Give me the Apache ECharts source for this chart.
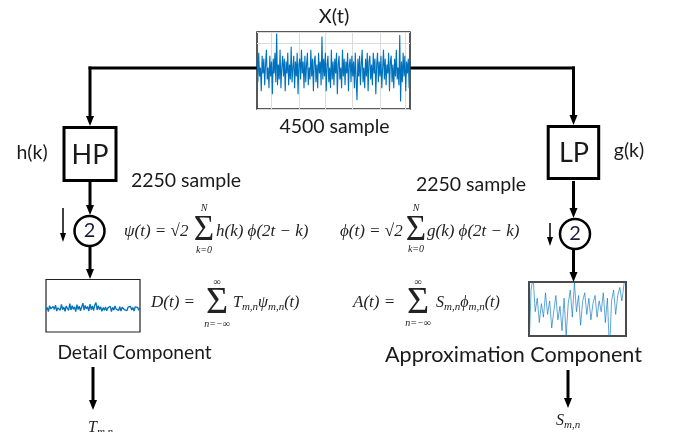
<!DOCTYPE html>
<html><head><meta charset="utf-8">
<script src="https://cdn.jsdelivr.net/npm/echarts@6/dist/echarts.min.js"></script>
<style>html,body{margin:0;padding:0;background:#fff}#c{width:673px;height:432px}</style>
</head><body><div id="c"></div>
<script>
// ---- data ----
const signalX = [
 0.3,-0.4,0.6,-0.2,0.1,-0.7,0.5,-0.1,0.4,-0.5,
 0.2,0.7,-0.3,0.1,-0.6,0.5,-0.2,0.3,-0.8,0.4,
 -0.1,0.6,-0.4,1.25,-0.5,0.2,-0.3,0.7,-0.6,0.1,
 0.5,-0.2,0.4,-0.7,0.3,-0.1,0.6,-0.5,0.2,-0.3,
 0.8,-0.4,0.1,0.5,-0.6,0.3,-0.2,0.6,-0.8,0.2,
 0.4,-0.3,0.7,-0.1,0.3,-0.6,0.5,-0.4,0.2,0.6,
 -0.5,0.1,-0.3,0.7,-0.2,0.4,-0.7,0.3,0.5,-0.4,
 0.2,-0.6,0.6,-0.1,0.3,-0.5,1.15,-0.3,0.4,-0.2,
 0.6,-0.7,0.2,0.5,-0.4,0.1,-0.6,0.7,-0.3,0.3,
 -0.5,0.4,-0.1,0.6,-0.8,0.2,0.5,-0.3,0.1,-0.6,
 0.7,-0.2,0.4,-0.5,0.3,-0.1,0.6,-0.7,0.2,0.4,
 -0.4,0.5,-0.2,0.3,-0.6,0.6,-0.3,-1.0,0.4,-0.2,
 0.5,-0.5,0.2,0.7,-0.4,0.1,-0.6,0.4,-0.2,0.6,
 -0.7,0.3,0.5,-0.3,0.2,-0.5,0.6,-0.1,0.4,-0.8,
 0.2,0.6,-0.4,0.3,-0.2,0.5,-0.6,0.1,0.7,-0.3,
 0.4,-0.5,0.2,-0.1,0.6,-0.7,0.3,0.5,-0.4,0.2,
 -0.6,0.4,-0.2,0.7,-0.3,0.1,-0.5,1.2,-1.05,0.3,
 -0.4,0.6,-0.2,0.5,-0.7,0.3,-0.1,0.4,-0.6,0.2
];
const detailD = [
 -0.06,0.04,-0.12,0.10,-0.02,-0.09,0.07,-0.04,0.12,-0.10,
 0.02,0.08,-0.07,0.15,-0.05,0.05,-0.11,0.09,0.03,-0.08,
 0.18,-0.06,0.10,-0.03,0.06,-0.12,0.14,-0.04,0.08,-0.09,
 0.05,0.20,-0.07,0.11,-0.02,0.07,-0.10,0.16,-0.05,0.09,
 -0.08,0.13,0.22,-0.06,0.10,-0.04,0.06,-0.11,0.03,-0.07,
 0.05,-0.09,0.02,-0.05,0.08,-0.12,0.04,-0.06,0.09,-0.03,
 0.01,-0.08,0.06,-0.10,0.04,0.07,-0.05,0.02,-0.09,0.05,
 -0.02,0.08,-0.06,0.03,-0.10,0.06,-0.01,0.04,-0.07,0.02
];
const approxA = [
 -1.5,0.7,1.2,-0.1,0.4,-0.5,0.2,-0.3,0.6,-0.2,
 0.3,-0.7,-0.1,0.5,-0.4,0.1,-0.8,0.4,-1.0,0.2,
 0.7,-0.3,1.0,-0.1,0.5,-0.6,0.3,0.6,-0.2,0.4,
 -0.4,0.2,0.5,-0.3,0.3,-0.1,0.6,-0.5,0.4,-1.6,
 0.3,0.7,-0.2,0.5,0.8,0.3,0.9,1.5
];
const gridLineIdx = [17, 49, 80, 112, 144, 174];
const labelsTop = ['X(t)', '4500 sample'];
const labelsSide = ['h(k)', 'HP', 'g(k)', 'LP', '2250 sample', '2'];
const labelsBottom = ['Detail Component', 'Approximation Component'];

// ---- drawing ----
const SANS = "Lato, 'Open Sans', sans-serif";
const SERIF = "'Liberation Serif', 'DejaVu Serif', serif";
const K = '#000';
const BLUE = '#0072BD';

function ln(x1,y1,x2,y2,w,c){return {type:'line',silent:true,shape:{x1,y1,x2,y2},style:{stroke:c||K,lineWidth:w}};}
function arrowDown(x,y1,y2,w,hw,hl){
  return [ln(x,y1,x,y2-hl+1,w),
    {type:'polygon',silent:true,shape:{points:[[x-hw,y2-hl],[x+hw,y2-hl],[x,y2]]},style:{fill:K}}];
}
function txt(x,y,text,size,o){
  o=o||{};
  return {type:'text',silent:true,x,y,style:{text,fontSize:size,fontFamily:o.font||SANS,
    fontStyle:o.italic?'italic':'normal',fill:o.color||'#1a1a1a',align:o.align||'center',verticalAlign:'middle',rich:o.rich}};
}
function mtxt(x,y,text,size,align){return txt(x,y,text,size,{font:SERIF,italic:true,align:align||'left',color:'#222'});}
const subRich = {
  a:{fontSize:16,fontFamily:SERIF,fontStyle:'italic',lineHeight:20,fill:'#222'},
  b:{fontSize:11,fontFamily:SERIF,fontStyle:'italic',lineHeight:9,verticalAlign:'bottom',fill:'#222'}
};
function sumSign(x,y,top,bot,size,dt,db){
  return [txt(x,y,'\u03A3',size,{font:SERIF,color:'#222'}),
    mtxt(x,y-dt,top,10,'center'), mtxt(x,y+db,bot,10,'center')];
}

let g = [];
// main trunk
g.push(ln(88.5,68,257,68,3), ln(410,68,575,68,3));
g.push(...arrowDown(90,66.5,126,3,4,10));
g.push(...arrowDown(573.5,66.5,125,3,4,10));
// filter boxes
g.push({type:'rect',silent:true,shape:{x:64,y:127.5,width:52,height:53},style:{fill:'none',stroke:K,lineWidth:3}});
g.push({type:'rect',silent:true,shape:{x:548.2,y:126.5,width:50.5,height:52},style:{fill:'none',stroke:K,lineWidth:3}});
g.push(txt(90,155,labelsSide[1],27), txt(574,153,labelsSide[3],27));
g.push(txt(32,153,labelsSide[0],19.5), txt(629,151,labelsSide[2],19.5));
g.push(txt(186,181,labelsSide[4],19.5), txt(471,185,labelsSide[4],19.5));
// down-samplers
g.push(...arrowDown(90,182,215,3,4,10));
g.push(...arrowDown(573.5,181,218,3,4,10));
g.push({type:'circle',silent:true,shape:{cx:89.5,cy:231,r:15},style:{fill:'#fff',stroke:K,lineWidth:2.5}});
g.push({type:'circle',silent:true,shape:{cx:575,cy:234,r:15},style:{fill:'#fff',stroke:K,lineWidth:2.5}});
g.push(txt(89.5,231,labelsSide[5],20,{color:'#1c1c3a'}), txt(575,234,labelsSide[5],20,{color:'#1c1c3a'}));
g.push(...arrowDown(63,208,242,1.5,3,9));
g.push(...arrowDown(550,223,246,1.5,3,9));
g.push(...arrowDown(90,246,279,3,4,10));
g.push(...arrowDown(573.5,249,282,3,4,10));
// top labels
g.push(txt(334,17,labelsTop[0],20), txt(334.5,127,labelsTop[1],19.5));
// formulas
g.push(mtxt(124,232,'\u03C8(t) = \u221A2',17));
g.push(...sumSign(204,231,'N','k=0',35,23,19));
g.push(mtxt(216,232,'h(k) \u03D5(2t \u2212 k)',17));
g.push(mtxt(340,232,'\u03D5(t) = \u221A2',17));
g.push(...sumSign(416,231,'N','k=0',35,23,18));
g.push(mtxt(427,232,'g(k) \u03D5(2t \u2212 k)',17));
g.push(mtxt(151,303,'D(t) =',17));
g.push(...sumSign(217,303,'\u221E','n=\u2212\u221E',38,21,21));
g.push(txt(233,303,'{a|T}{b|m,n}{a|\u03C8}{b|m,n}{a|(t)}',16,{font:SERIF,italic:true,align:'left',rich:subRich}));
g.push(mtxt(353,303,'A(t) =',17));
g.push(...sumSign(418,303,'\u221E','n=\u2212\u221E',38,21,20));
g.push(txt(436,303,'{a|S}{b|m,n}{a|\u03D5}{b|m,n}{a|(t)}',16,{font:SERIF,italic:true,align:'left',rich:subRich}));
// bottom labels and outputs
g.push(txt(134.5,353,labelsBottom[0],19.2), txt(513.5,355,labelsBottom[1],21.6));
g.push(...arrowDown(93,367,410,3,4,10));
g.push(...arrowDown(568,370,408,3,4,10));
g.push(txt(88,428,'{a|T}{b|m,n}',16,{font:SERIF,italic:true,align:'left',rich:subRich}));
g.push(txt(556,421,'{a|S}{b|m,n}',16,{font:SERIF,italic:true,align:'left',rich:subRich}));

const hiddenAxis = {axisLine:{show:false},axisTick:{show:false},axisLabel:{show:false}};
const option = {
  animation:false,
  backgroundColor:'#fff',
  grid:[
    {left:257,top:32,width:153,height:77,show:true,backgroundColor:'#fff',borderColor:'#222',borderWidth:1.5},
    {left:46,top:279.5,width:94,height:52.5,show:true,backgroundColor:'#fff',borderColor:'#222',borderWidth:1.2},
    {left:529,top:282,width:97,height:54,show:true,backgroundColor:'#fff',borderColor:'#4a4a4a',borderWidth:2}
  ],
  xAxis:[
    Object.assign({gridIndex:0,type:'category',boundaryGap:false,data:signalX.map((_,i)=>i),
      splitLine:{show:true,interval:(i)=>gridLineIdx.includes(i),lineStyle:{color:'#dcdcdc',width:1}}},hiddenAxis),
    Object.assign({gridIndex:1,type:'category',boundaryGap:false,data:detailD.map((_,i)=>i),splitLine:{show:false}},hiddenAxis),
    Object.assign({gridIndex:2,type:'category',boundaryGap:false,data:approxA.map((_,i)=>i),splitLine:{show:false}},hiddenAxis)
  ],
  yAxis:[
    Object.assign({gridIndex:0,type:'value',min:-1.3,max:1.3,splitLine:{show:false}},hiddenAxis),
    Object.assign({gridIndex:1,type:'value',min:-0.9,max:1.1,splitLine:{show:false}},hiddenAxis),
    Object.assign({gridIndex:2,type:'value',min:-1,max:1,splitLine:{show:false}},hiddenAxis),
    Object.assign({gridIndex:0,type:'value',min:0,max:1,interval:0.85,splitLine:{show:true,lineStyle:{color:'#dcdcdc',width:1}}},hiddenAxis)
  ],
  series:[
    {type:'line',xAxisIndex:0,yAxisIndex:0,data:signalX,showSymbol:false,silent:true,z:3,
      lineStyle:{color:BLUE,width:1.1}},
    {type:'line',xAxisIndex:1,yAxisIndex:1,data:detailD,showSymbol:false,silent:true,z:3,
      lineStyle:{color:BLUE,width:1.3}},
    {type:'line',xAxisIndex:2,yAxisIndex:2,data:approxA,showSymbol:false,silent:true,z:3,
      lineStyle:{color:BLUE,width:0.9,opacity:0.7}}
  ],
  graphic:{elements:g}
};
const chart = echarts.init(document.getElementById('c'));
chart.setOption(option);
</script>
</body></html>
